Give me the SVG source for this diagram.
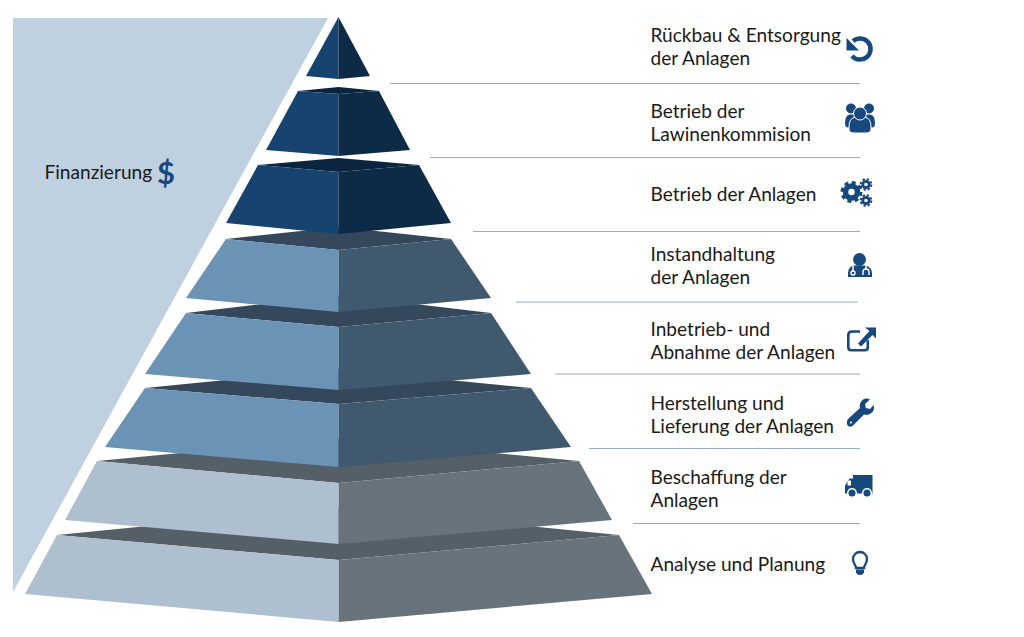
<svg xmlns="http://www.w3.org/2000/svg" width="1024" height="637" viewBox="0 0 1024 637">
<style>
.t{font-family:"Lato","Carlito","Liberation Sans",sans-serif;font-size:19.1px;fill:#1a1a1a}
.a1{fill:#17436f}.a2{fill:#0d2a47}.a3{fill:#0b2440}
.b1{fill:#6a93b5}.b2{fill:#41596e}.b3{fill:#35475a}
.c1{fill:#aebfd0}.c2{fill:#69737c}.c3{fill:#555f68}
.ln{stroke:#94aec9;stroke-width:1.100;fill:none}
.ic{fill:#17497e}
.is{fill:none;stroke:#17497e}
</style>
<rect width="1024" height="637" fill="#fff"/>
<polygon id="finanzierung-bg" points="13,18 328,18 13,592" fill="#bfd1e1"/>
<g id="layer8"><polygon class="c3" points="57,535 338.700,507 619,535 338.700,560"/><polygon class="c1" points="57,535 338.700,560 338.700,622 25,594"/><polygon class="c2" points="619,535 338.700,560 338.700,622 652,594"/></g>
<g id="layer7"><polygon class="c3" points="97,461 338.700,438 579,461 338.700,483"/><polygon class="c1" points="97,461 338.700,483 338.700,544 65,520"/><polygon class="c2" points="579,461 338.700,483 338.700,544 612,520"/></g>
<g id="layer6"><polygon class="b3" points="145,388 338.700,369 531,388 338.700,404"/><polygon class="b1" points="145,388 338.700,404 338.700,467 105,447"/><polygon class="b2" points="531,388 338.700,404 338.700,467 571,447"/></g>
<g id="layer5"><polygon class="b3" points="186,313 338.700,295 491,313 338.700,327"/><polygon class="b1" points="186,313 338.700,327 338.700,390 145,374"/><polygon class="b2" points="491,313 338.700,327 338.700,390 531,374"/></g>
<g id="layer4"><polygon class="b3" points="226,239 338.700,227 451,239 338.700,250"/><polygon class="b1" points="226,239 338.700,250 338.700,312 186,298"/><polygon class="b2" points="451,239 338.700,250 338.700,312 491,298"/></g>
<g id="layer3"><polygon class="a3" points="258,165 338.700,158 419,165 338.700,172"/><polygon class="a1" points="258,165 338.700,172 338.700,234 226,223"/><polygon class="a2" points="419,165 338.700,172 338.700,234 451,223"/></g>
<g id="layer2"><polygon class="a3" points="298,91 338.700,87 379,91 338.700,94"/><polygon class="a1" points="298,91 338.700,94 338.700,156 266,150"/><polygon class="a2" points="379,91 338.700,94 338.700,156 410,150"/></g>
<g id="layer1"><polygon class="a1" points="338.500,17 338.500,79 306,76"/><polygon class="a2" points="338.500,17 338.500,79 370,76"/></g>
<g id="connectors">
<line class="ln" x1="390" y1="83.500" x2="860" y2="83.500"/>
<line class="ln" x1="430" y1="157.500" x2="860" y2="157.500"/>
<line class="ln" x1="473" y1="231.500" x2="860" y2="231.500"/>
<line class="ln" x1="516" y1="302" x2="858" y2="302"/>
<line class="ln" x1="555" y1="374" x2="860" y2="374"/>
<line class="ln" x1="589" y1="448.500" x2="860" y2="448.500"/>
<line class="ln" x1="633" y1="523.500" x2="860" y2="523.500"/>
</g>
<g id="finanzierung"><text class="t" x="44.500" y="178.500">Finanzierung</text><text x="157" y="184" font-family="Lato,'Liberation Sans',sans-serif" font-weight="700" font-size="31" fill="#17497e">$</text></g>
<g id="item-rueckbau"><text class="t" x="650.500" y="42">Rückbau &amp; Entsorgung</text><text class="t" x="650.500" y="65">der Anlagen</text>
<path class="is" stroke-width="4.500" d="M853 41A10.600 10.600 0 1 1 852 56"/><polygon class="ic" points="846.500,38 846.500,50.500 859,50.500"/></g>
<g id="item-kommission"><text class="t" x="650.500" y="118">Betrieb der</text><text class="t" x="650.500" y="141">Lawinenkommision</text>
<circle class="ic" cx="851" cy="108.500" r="5"/><circle class="ic" cx="869" cy="108.500" r="5"/><path class="ic" d="M845 123q0-8 5-8.500h6l-6 13h-2q-3 0-3-4.500zM875 123q0-8-5-8.500h-6l6 13h2q3 0 3-4.500z"/><path class="ic" d="M849 127q0-8 5-9.500h12q5 1.500 5 9.500v2q0 4-5 4h-12q-5 0-5-4z" stroke="#fff" stroke-width="1"/><circle class="ic" cx="860" cy="113.500" r="6.500" stroke="#fff" stroke-width="1"/></g>
<g id="item-betrieb"><text class="t" x="650.500" y="201">Betrieb der Anlagen</text>
<circle class="is" cx="851.500" cy="192" r="6" stroke-width="5.500"/><circle class="is" cx="851.500" cy="192" r="9.500" stroke-width="3" stroke-dasharray="4 3.460"/>
<circle class="is" cx="866" cy="184.500" r="3.200" stroke-width="2.800"/><circle class="is" cx="866" cy="184.500" r="5.300" stroke-width="2" stroke-dasharray="2.300 1.860"/>
<circle class="is" cx="866" cy="200.500" r="3.200" stroke-width="2.800"/><circle class="is" cx="866" cy="200.500" r="5.300" stroke-width="2" stroke-dasharray="2.300 1.860"/></g>
<g id="item-instandhaltung"><text class="t" x="650.500" y="261">Instandhaltung</text><text class="t" x="650.500" y="284">der Anlagen</text>
<circle class="ic" cx="859.500" cy="259.500" r="6.500"/><path class="ic" d="M848 277v-4q0-6 6-7.500h11q7 1.500 7 7.500v4z"/><path fill="none" stroke="#fff" stroke-width="1.500" d="M853 266v5M866 266v3"/><circle cx="853" cy="273" r="2" fill="none" stroke="#fff" stroke-width="1.400"/><path fill="none" stroke="#fff" stroke-width="1.400" d="M863 275v-3q0-3 3-3t3 3v3"/></g>
<g id="item-inbetrieb"><text class="t" x="650.500" y="336">Inbetrieb- und</text><text class="t" x="650.500" y="359">Abnahme der Anlagen</text>
<path class="is" stroke-width="2.600" d="M860 331.500h-8q-3.700 0-3.700 3.700v12q0 3 3 3h13.500q3 0 3-3v-7"/><polygon class="ic" points="865,327.500 876,327.500 876,338.500 872.500,335 861,346.500 858,343.500 869.500,331"/></g>
<g id="item-herstellung"><text class="t" x="650.500" y="410">Herstellung und</text><text class="t" x="650.500" y="433">Lieferung der Anlagen</text>
<path class="ic" d="M848 419l12-11q-1-5 2.500-8 3.500-2.500 7.500-.5l-5 4.500 1 4 4 1 3.500-4q1.500 4.500-1.500 7.500-3.500 3.500-8 2l-11.500 11.500q-2.500 1.500-4.500 0-2-2.500-.5-6.500z"/><circle cx="851" cy="422.500" r="1.100" fill="#fff"/></g>
<g id="item-beschaffung"><text class="t" x="650.500" y="484">Beschaffung der</text><text class="t" x="650.500" y="507">Anlagen</text>
<path class="ic" d="M853 475h19.500v18.500h-19.500zM845 485.500l4.500-7h5v15h-9.500z"/><polygon points="847.500,480.500 851,480.500 851,485.500 847.500,485.500" fill="#fff"/><circle class="ic" cx="852" cy="493" r="4.300" stroke="#fff" stroke-width="1.500"/><circle class="ic" cx="867" cy="493" r="4.300" stroke="#fff" stroke-width="1.500"/></g>
<g id="item-analyse"><text class="t" x="650.500" y="571">Analyse und Planung</text>
<path class="is" stroke-width="2.300" d="M856 568c0-3-3-4-3-9a7 7 0 0 1 14 0c0 5-3 6-3 9z"/><path class="ic" d="M856 569.500h8v3q-1 2.500-4 2.500t-4-2.500z"/></g>
</svg>
